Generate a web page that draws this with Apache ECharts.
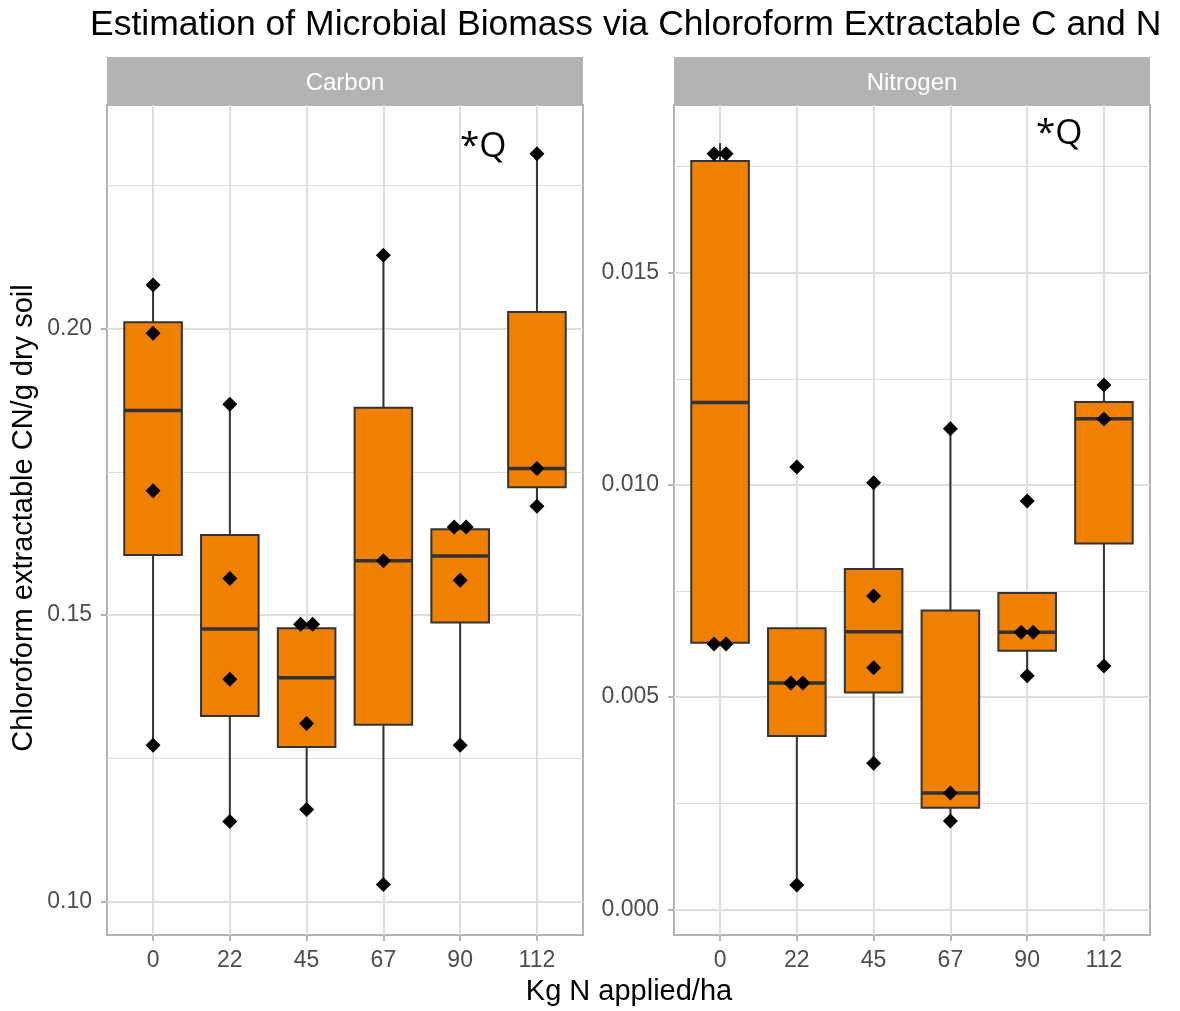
<!DOCTYPE html>
<html>
<head>
<meta charset="utf-8">
<script src="https://cdn.jsdelivr.net/npm/echarts@6/dist/echarts.min.js"></script>
<style>
  html, body { margin: 0; padding: 0; background: #ffffff; }
  #chart { width: 1180px; height: 1011px; }
</style>
</head>
<body>
<div id="chart"></div>
<script>
// ---------------- data ----------------
const categories = ['0', '22', '45', '67', '90', '112'];

// box statistics per category: [lower whisker, Q1, median, Q3, upper whisker]
const carbonBox = [
  [0.1273, 0.1605, 0.1857, 0.2011, 0.2076],
  [0.1140, 0.1324, 0.1476, 0.1640, 0.1868],
  [0.1161, 0.1270, 0.1391, 0.1477, 0.1484],
  [0.1030, 0.1309, 0.1595, 0.1862, 0.2128],
  [0.1273, 0.1487, 0.1603, 0.1650, 0.1654],
  [0.1690, 0.1723, 0.1756, 0.2029, 0.2305]
];
const nitrogenBox = [
  [0.00628, 0.00628, 0.01194, 0.01763, 0.01805],
  [0.00057, 0.00408, 0.00533, 0.00662, 0.00662],
  [0.00344, 0.00511, 0.00654, 0.00802, 0.01005],
  [0.00208, 0.00239, 0.00274, 0.00704, 0.01132],
  [0.00550, 0.00609, 0.00653, 0.00745, 0.00745],
  [0.00573, 0.00862, 0.01156, 0.01195, 0.01235]
];

// observed values per category
const carbonPoints = [
  [0.1273, 0.1717, 0.1992, 0.2076],
  [0.1140, 0.1388, 0.1564, 0.1868],
  [0.1161, 0.1311, 0.1484, 0.1484],
  [0.1030, 0.1595, 0.2128],
  [0.1273, 0.1561, 0.1654, 0.1654],
  [0.1690, 0.1756, 0.2305]
];
const nitrogenPoints = [
  [0.00625, 0.00625, 0.01780, 0.01780],
  [0.00057, 0.00533, 0.00533, 0.01042],
  [0.00344, 0.00569, 0.00738, 0.01005],
  [0.00208, 0.00274, 0.01132],
  [0.00550, 0.00653, 0.00653, 0.00962],
  [0.00573, 0.01155, 0.01235]
];

const carbonTicks = ['0.10', '0.15', '0.20'];
const carbonMinor = ['0.125', '0.175', '0.225'];
const nitrogenTicks = ['0.000', '0.005', '0.010', '0.015'];
const nitrogenMinor = ['0.0025', '0.0075', '0.0125', '0.0175'];
const carbonRange = [0.0942, 0.239];
const nitrogenRange = [-0.000606, 0.01895];

const panelTitles = ['Carbon', 'Nitrogen'];
const mainTitle = 'Estimation of Microbial Biomass via Chloroform Extractable C and N';
const xTitle = 'Kg N applied/ha';
const yTitle = 'Chloroform extractable CN/g dry soil';
const annotation = '*Q';

// ---------------- style ----------------
const FONT = '"Liberation Sans", Arial, sans-serif';
const ORANGE = '#F08000';
const EDGE = '#333333';
const GRID_MAJOR = '#DEDEDE';
const BORDER = '#B3B3B3';
const TICKTXT = '#4D4D4D';

const chart = echarts.init(document.getElementById('chart'));

const catIdx = categories.map((c, i) => i);

function boxRows(box) {
  return box.map((b, i) => [i].concat(b));
}

function pointRows(points) {
  const out = [];
  points.forEach((vals, i) => {
    const seen = {};
    vals.forEach(v => { const k = v.toFixed(6); seen[k] = (seen[k] || 0) + 1; });
    const used = {};
    vals.forEach(v => {
      const k = v.toFixed(6);
      const n = seen[k];
      const j = used[k] || 0;
      used[k] = j + 1;
      const dx = n > 1 ? (j - (n - 1) / 2) * 12 : 0;
      out.push({ value: [i, v], symbolOffset: [dx, 0] });
    });
  });
  return out;
}

function renderBox(params, api) {
  const x = api.value(0);
  const lo = api.coord([x, api.value(1)]);
  const q1 = api.coord([x, api.value(2)]);
  const md = api.coord([x, api.value(3)]);
  const q3 = api.coord([x, api.value(4)]);
  const hi = api.coord([x, api.value(5)]);
  const bw = api.size([1, 0])[0] * 0.75;
  const cx = lo[0];
  const children = [];
  if (Math.abs(lo[1] - q1[1]) > 0.5) {
    children.push({ type: 'line', shape: { x1: cx, y1: lo[1], x2: cx, y2: q1[1] }, style: { stroke: EDGE, lineWidth: 2 } });
  }
  if (Math.abs(hi[1] - q3[1]) > 0.5) {
    children.push({ type: 'line', shape: { x1: cx, y1: q3[1], x2: cx, y2: hi[1] }, style: { stroke: EDGE, lineWidth: 2 } });
  }
  children.push({ type: 'rect', shape: { x: cx - bw / 2, y: q3[1], width: bw, height: q1[1] - q3[1] }, style: { fill: ORANGE, stroke: EDGE, lineWidth: 2 } });
  children.push({ type: 'line', shape: { x1: cx - bw / 2, y1: md[1], x2: cx + bw / 2, y2: md[1] }, style: { stroke: EDGE, lineWidth: 3.5 } });
  return { type: 'group', children: children };
}

const panelLeft = [107, 674];
const panelTop = 105;
const panelW = 476;
const panelH = 830;

function xAxisFor(g) {
  return {
    type: 'value', gridIndex: g, min: -0.6, max: 5.6,
    axisLine: { show: false, onZero: false },
    axisTick: { show: true, customValues: catIdx, length: 6, lineStyle: { color: BORDER, width: 2 } },
    axisLabel: { customValues: catIdx, formatter: v => categories[Math.round(v)], color: TICKTXT, fontSize: 23, fontFamily: FONT, margin: 14 },
    splitLine: { show: true, lineStyle: { color: GRID_MAJOR, width: 2 } }
  };
}

function yAxesFor(g, range, ticks, minor) {
  const tv = ticks.map(Number);
  return [
    {
      type: 'value', gridIndex: g, min: range[0], max: range[1],
      axisLine: { show: false, onZero: false },
      axisTick: { show: true, customValues: tv, length: 6, lineStyle: { color: BORDER, width: 2 } },
      axisLabel: {
        customValues: tv,
        formatter: v => { let best = 0; tv.forEach((t, k) => { if (Math.abs(t - v) < Math.abs(tv[best] - v)) best = k; }); return ticks[best]; },
        color: TICKTXT, fontSize: 23, fontFamily: FONT, margin: 15
      },
      splitLine: { show: true, lineStyle: { color: GRID_MAJOR, width: 2 } }
    },
    {
      type: 'value', gridIndex: g, min: range[0], max: range[1],
      axisLine: { show: false, onZero: false },
      axisTick: { show: false, customValues: minor.map(Number) },
      axisLabel: { show: false, customValues: minor.map(Number) },
      splitLine: { show: true, lineStyle: { color: GRID_MAJOR, width: 1.2 } }
    }
  ];
}

const option = {
  backgroundColor: '#ffffff',
  animation: false,
  grid: panelLeft.map(l => ({
    left: l, top: panelTop, width: panelW, height: panelH,
    show: true, borderColor: BORDER, borderWidth: 2, backgroundColor: 'transparent'
  })),
  xAxis: [xAxisFor(0), xAxisFor(1)],
  yAxis: yAxesFor(0, carbonRange, carbonTicks, carbonMinor).concat(yAxesFor(1, nitrogenRange, nitrogenTicks, nitrogenMinor)),
  series: [
    { type: 'custom', name: 'Carbon box', xAxisIndex: 0, yAxisIndex: 0, renderItem: renderBox, encode: { x: 0, y: [1, 2, 3, 4, 5] }, data: boxRows(carbonBox), z: 2 },
    { type: 'scatter', name: 'Carbon', xAxisIndex: 0, yAxisIndex: 0, symbol: 'diamond', symbolSize: 15, itemStyle: { color: '#000000', opacity: 1 }, data: pointRows(carbonPoints), z: 4 },
    { type: 'custom', name: 'Nitrogen box', xAxisIndex: 1, yAxisIndex: 2, renderItem: renderBox, encode: { x: 0, y: [1, 2, 3, 4, 5] }, data: boxRows(nitrogenBox), z: 2 },
    { type: 'scatter', name: 'Nitrogen', xAxisIndex: 1, yAxisIndex: 2, symbol: 'diamond', symbolSize: 15, itemStyle: { color: '#000000', opacity: 1 }, data: pointRows(nitrogenPoints), z: 4 }
  ],
  graphic: [
    { type: 'text', x: 90, y: 25, style: { text: mainTitle, font: '35.5px ' + FONT, fill: '#000000', textAlign: 'left', textVerticalAlign: 'middle' } },
    { type: 'rect', shape: { x: panelLeft[0], y: 57, width: panelW, height: 48 }, style: { fill: BORDER } },
    { type: 'rect', shape: { x: panelLeft[1], y: 57, width: panelW, height: 48 }, style: { fill: BORDER } },
    { type: 'text', x: panelLeft[0] + panelW / 2, y: 83, style: { text: panelTitles[0], font: '24px ' + FONT, fill: '#FFFFFF', textAlign: 'center', textVerticalAlign: 'middle' } },
    { type: 'text', x: panelLeft[1] + panelW / 2, y: 83, style: { text: panelTitles[1], font: '24px ' + FONT, fill: '#FFFFFF', textAlign: 'center', textVerticalAlign: 'middle' } },
    { type: 'text', x: 629, y: 992, style: { text: xTitle, font: '29px ' + FONT, fill: '#000000', textAlign: 'center', textVerticalAlign: 'middle' } },
    { type: 'text', x: 24, y: 518, rotation: Math.PI / 2, style: { text: yTitle, font: '29px ' + FONT, fill: '#000000', textAlign: 'center', textVerticalAlign: 'middle' } },
    { type: 'text', x: 460, y: 147, style: { text: annotation, font: '35px "Open Sans", sans-serif', fill: '#000000', textAlign: 'left', textVerticalAlign: 'middle' } },
    { type: 'text', x: 1036, y: 134, style: { text: annotation, font: '35px "Open Sans", sans-serif', fill: '#000000', textAlign: 'left', textVerticalAlign: 'middle' } }
  ]
};

chart.setOption(option);
</script>
</body>
</html>
